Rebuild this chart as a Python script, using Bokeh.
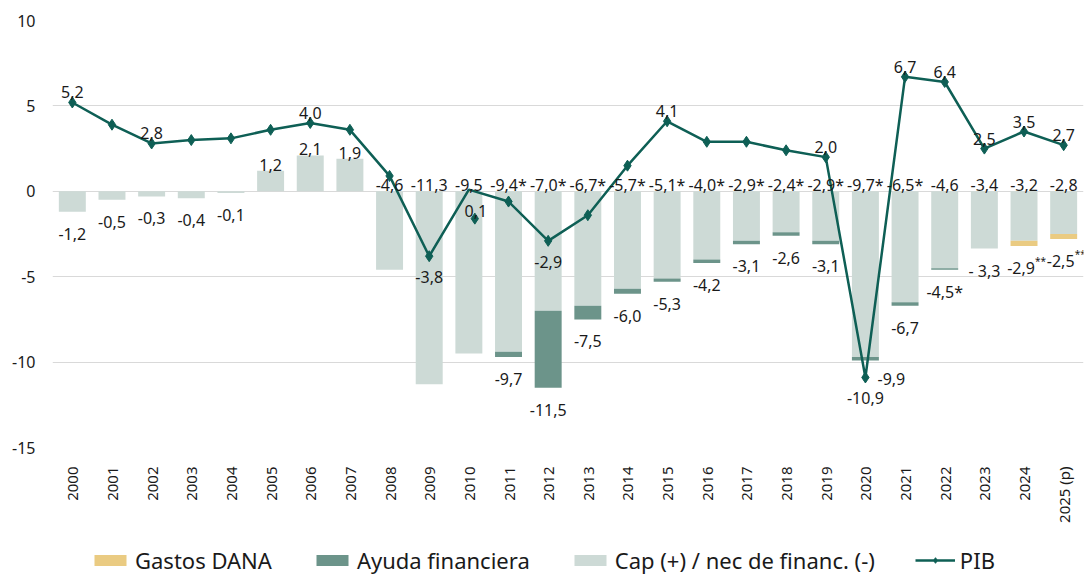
from bokeh.plotting import figure
from bokeh.layouts import column
from bokeh.models import ColumnDataSource, Legend, LegendItem, FixedTicker, FactorRange, Range1d
from bokeh.transform import dodge
from bokeh.core.properties import value
from bokeh.embed import file_html
from bokeh.resources import INLINE

years = ["2000", "2001", "2002", "2003", "2004", "2005", "2006", "2007", "2008", "2009",
         "2010", "2011", "2012", "2013", "2014", "2015", "2016", "2017", "2018", "2019",
         "2020", "2021", "2022", "2023", "2024", "2025 (p)"]

# Capacidad / necesidad de financiación (sin ayuda financiera ni DANA)
cap_nec = [-1.2, -0.5, -0.3, -0.4, -0.1, 1.2, 2.1, 1.9, -4.6, -11.3,
           -9.5, -9.4, -7.0, -6.7, -5.7, -5.1, -4.0, -2.9, -2.4, -2.9,
           -9.7, -6.5, -4.5, -3.35, -2.9, -2.5]
ayuda = [0, 0, 0, 0, 0, 0, 0, 0, 0, 0,
         0, -0.3, -4.5, -0.8, -0.3, -0.2, -0.2, -0.2, -0.2, -0.2,
         -0.2, -0.2, -0.1, 0, 0, 0]
dana = [0, 0, 0, 0, 0, 0, 0, 0, 0, 0,
        0, 0, 0, 0, 0, 0, 0, 0, 0, 0,
        0, 0, 0, 0, -0.3, -0.3]
pib = [5.2, 3.9, 2.8, 3.0, 3.1, 3.6, 4.0, 3.6, 0.9, -3.8,
       0.1, -0.6, -2.9, -1.4, 1.5, 4.1, 2.9, 2.9, 2.4, 2.0,
       -10.9, 6.7, 6.4, 2.5, 3.5, 2.7]
pib_marker_2010 = -1.6  # marcador desplazado en el original

top_text = ["", "", "", "", "", "1,2", "2,1", "1,9", "-4,6", "-11,3",
            "-9,5", "-9,4*", "-7,0*", "-6,7*", "-5,7*", "-5,1*", "-4,0*", "-2,9*", "-2,4*", "-2,9*",
            "-9,7*", "-6,5*", "-4,6", "-3,4", "-3,2", "-2,8"]
bottom_text = ["-1,2", "-0,5", "-0,3", "-0,4", "-0,1", "", "", "", "", "",
               "", "-9,7", "-11,5", "-7,5", "-6,0", "-5,3", "-4,2", "-3,1", "-2,6", "-3,1",
               "", "-6,7", "-4,5*", "- 3,3", "-2,9**", "-2,5**"]
bottom_2020 = "-9,9"
pib_text = ["5,2", "", "2,8", "", "", "", "4,0", "", "", "-3,8",
            "", "", "-2,9", "", "", "4,1", "", "", "", "2,0",
            "-10,9", "6,7", "6,4", "2,5", "3,5", "2,7"]
pib_text_2010 = "0,1"
legend_labels = ["Gastos DANA", "Ayuda financiera", "Cap (+) / nec de financ. (-)", "PIB"]

C_CAP = "#CDDAD6"
C_AYUDA = "#6C948A"
C_DANA = "#EACB82"
C_PIB = "#0E5F55"
FONT = "Noto Sans"

n = len(years)
ayuda_bottom = [cap_nec[i] for i in range(n)]
ayuda_top = [cap_nec[i] + ayuda[i] for i in range(n)]
dana_top = [cap_nec[i] + dana[i] for i in range(n)]
total = [cap_nec[i] + ayuda[i] + dana[i] for i in range(n)]

x_range = FactorRange(*years)
p = figure(width=1088, height=530, x_range=x_range, y_range=Range1d(-15, 10),
           output_backend="svg", toolbar_location=None,
           min_border_left=52, min_border_right=5, min_border_top=20, min_border_bottom=83)
p.outline_line_color = None
p.xgrid.grid_line_color = None
p.ygrid.grid_line_color = "#D9D9D9"
p.ygrid.grid_line_width = 1
p.ygrid.ticker = FixedTicker(ticks=[-15, -10, -5, 0, 5, 10])

p.yaxis.ticker = FixedTicker(ticks=[-15, -10, -5, 0, 5, 10])
p.yaxis.major_label_overrides = {-15: "-15", -10: "-10", -5: "-5", 0: "0", 5: "5", 10: "10"}
for ax in (p.xaxis[0], p.yaxis[0]):
    ax.axis_line_color = None
    ax.major_tick_line_color = None
    ax.minor_tick_line_color = None
    ax.major_label_text_font = FONT
    ax.major_label_text_color = "#1a1a1a"
p.yaxis.major_label_text_font_size = "16px"
p.yaxis.major_label_standoff = 11
p.xaxis.major_label_text_font_size = "15px"
p.xaxis.major_label_orientation = 1.5707963
p.xaxis.major_label_standoff = 13

W = 0.68
src = ColumnDataSource(dict(x=years, cap=cap_nec, ab=ayuda_bottom, at=ayuda_top, dt=dana_top))
bar_cap = dict(x="x", top="cap", bottom=0, width=W, source=src, fill_color=C_CAP, line_color=None)
bar_ay = dict(x="x", top="at", bottom="ab", width=W, source=src, fill_color=C_AYUDA, line_color=None)
bar_da = dict(x="x", top="dt", bottom="ab", width=W, source=src, fill_color=C_DANA, line_color=None)
p.vbar(**bar_cap)
p.vbar(**bar_ay)
p.vbar(**bar_da)

# PIB line
mx = [years[i] for i in range(n) if years[i] != "2010"]
my = [pib[i] for i in range(n) if years[i] != "2010"]
line_kw = dict(x=years, y=pib, line_color=C_PIB, line_width=2.5)
mk_kw = dict(x=mx, y=my, marker="diamond", size=11, fill_color=C_PIB, line_color=C_PIB)
p.line(**line_kw)
p.scatter(**mk_kw)
src_m10 = ColumnDataSource(dict(x=["2010"], y=[pib_marker_2010]))
p.scatter(x=dodge("x", 0.15, range=x_range), y="y", source=src_m10, marker="diamond",
          size=11, fill_color=C_PIB, line_color=C_PIB)

# Labels
txt_kw = dict(text_font=value(FONT), text_font_size="16px", text_color="#1a1a1a",
              text_align="center", text_baseline="alphabetic")
tx = [years[i] for i in range(n) if top_text[i]]
ty = [max(cap_nec[i], 0) for i in range(n) if top_text[i]]
tt = [top_text[i] for i in range(n) if top_text[i]]
p.text(x=tx, y=ty, text=tt, y_offset=-6, **txt_kw)

# bottom labels: single '*' inline, '**' as small superscript
bx, by, bt, sx, sy, st = [], [], [], [], [], []
for i in range(n):
    s = bottom_text[i]
    if not s:
        continue
    if s.endswith("**"):
        sx.append(years[i]); sy.append(total[i]); st.append(s[:-2])
    else:
        bx.append(years[i]); by.append(total[i]); bt.append(s)
p.text(x=bx, y=by, text=bt, y_offset=22, **txt_kw)
p.text(x=sx, y=sy, text=st, x_offset=-3, y_offset=22, **txt_kw)
p.text(x=sx, y=sy, text=["**"] * len(sx), x_offset=11, y_offset=15,
       text_font=value(FONT), text_font_size="10px", text_color="#1a1a1a",
       text_align="left", text_baseline="alphabetic")
p.text(x=["2020"], y=[total[20]], text=[bottom_2020], x_offset=26, y_offset=19, **txt_kw)

ux = [years[i] for i in range(n) if pib_text[i] and pib[i] >= 0]
uy = [pib[i] for i in range(n) if pib_text[i] and pib[i] >= 0]
ut = [pib_text[i] for i in range(n) if pib_text[i] and pib[i] >= 0]
p.text(x=ux, y=uy, text=ut, y_offset=-10, **txt_kw)
dx = [years[i] for i in range(n) if pib_text[i] and pib[i] < 0]
dy = [pib[i] for i in range(n) if pib_text[i] and pib[i] < 0]
dt_ = [pib_text[i] for i in range(n) if pib_text[i] and pib[i] < 0]
p.text(x=dx, y=dy, text=dt_, y_offset=21, **txt_kw)
p.text(x=["2010"], y=[pib[10]], text=[pib_text_2010], x_offset=7, y_offset=21, **txt_kw)

# Legend strip: small figure sharing the x range, its y window above all data
pl = figure(width=1088, height=46, x_range=x_range, y_range=Range1d(20, 21),
            x_axis_type=None, y_axis_type=None, output_backend="svg", toolbar_location=None,
            min_border=0)
pl.outline_line_color = None
pl.grid.visible = False
l_da = pl.vbar(**bar_da)
l_ay = pl.vbar(**bar_ay)
l_cap = pl.vbar(**bar_cap)
l_line = pl.line(**line_kw)
l_mk = pl.scatter(**mk_kw)

legend = Legend(items=[
    LegendItem(label=legend_labels[0], renderers=[l_da]),
    LegendItem(label=legend_labels[1], renderers=[l_ay]),
    LegendItem(label=legend_labels[2], renderers=[l_cap]),
    LegendItem(label=legend_labels[3], renderers=[l_line, l_mk]),
], orientation="horizontal", location=(38, 1), margin=0, padding=0,
    spacing=40, glyph_width=40, glyph_height=14, label_standoff=5,
    label_text_font=FONT, label_text_font_size="22px", label_text_color="#1a1a1a",
    border_line_color=None, background_fill_alpha=0)
pl.add_layout(legend)

layout = column(p, pl, spacing=0)
open("out.html", "w").write(file_html(layout, INLINE))
